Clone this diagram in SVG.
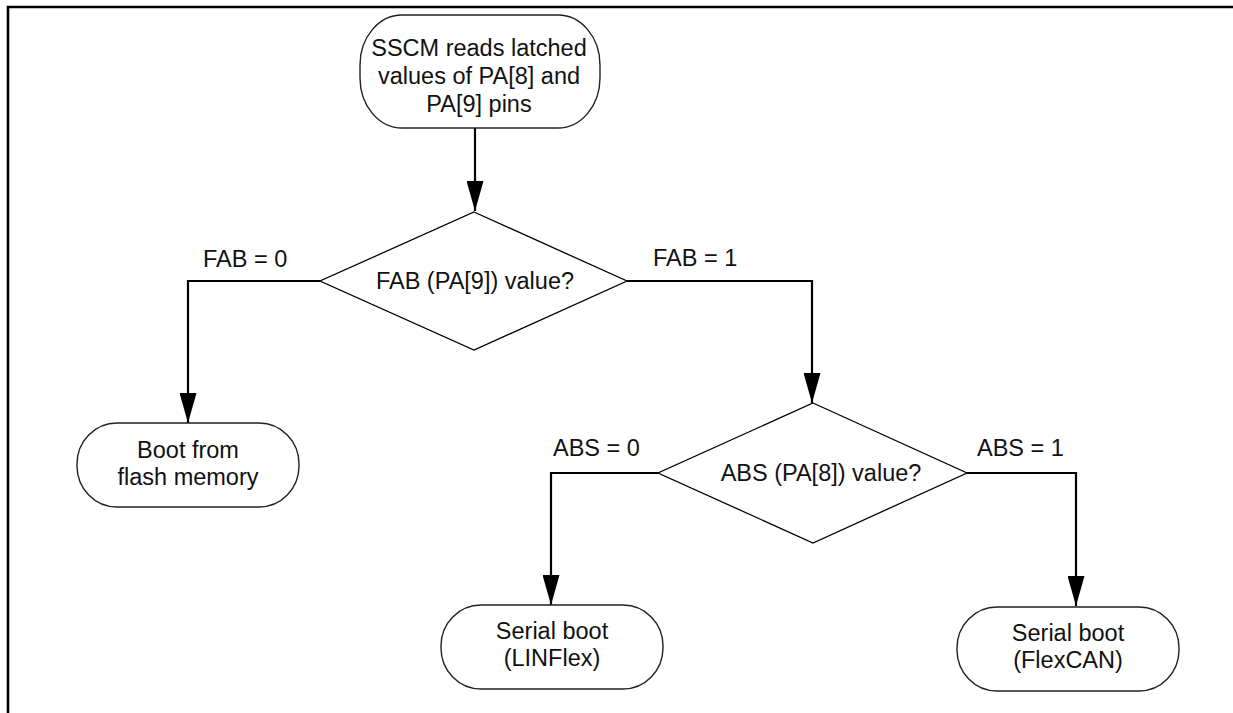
<svg xmlns="http://www.w3.org/2000/svg" width="1233" height="713" viewBox="0 0 1233 713">
  <defs>
    <marker id="arrow" markerUnits="userSpaceOnUse" markerWidth="30" markerHeight="17" refX="30" refY="8.5" orient="auto">
      <path d="M0,0 L30,8.5 L0,17 Z" fill="#000"/>
    </marker>
    <style>
      .term { fill: #fff; stroke: #222; stroke-width: 1.4; }
      .dec { fill: #fff; stroke: #000; stroke-width: 1.3; }
      .wire { fill: none; stroke: #000; stroke-width: 2.2; marker-end: url(#arrow); }
      .frame { fill: none; stroke: #000; stroke-width: 2.6; }
      text { font-family: "Liberation Sans", Arial, sans-serif; font-size: 23.5px; fill: #111; text-anchor: middle; }
      .lbl { text-anchor: start; }
    </style>
  </defs>
  <rect width="1233" height="713" fill="#fff"/>

  <!-- page frame: top and left rules -->
  <path class="frame" d="M8,713 L8,7 L1233,7"/>

  <!-- connectors -->
  <g id="connectors">
    <path class="wire" d="M475,128 L475,211"/>
    <path class="wire" d="M320,281 L188,281 L188,423"/>
    <path class="wire" d="M627,281 L812,281 L812,403"/>
    <path class="wire" d="M658,473 L551,473 L551,605"/>
    <path class="wire" d="M967,473 L1076,473 L1076,606"/>
    <text class="lbl" x="203" y="267">FAB = 0</text>
    <text class="lbl" x="653" y="266">FAB = 1</text>
    <text class="lbl" x="553" y="456">ABS = 0</text>
    <text class="lbl" x="977" y="456">ABS = 1</text>
  </g>

  <g id="start">
    <rect class="term" x="360" y="15" width="240" height="113" rx="42" ry="50"/>
    <text x="479" y="56">SSCM reads latched</text>
    <text x="479" y="84">values of PA[8] and</text>
    <text x="479" y="112">PA[9] pins</text>
  </g>

  <g id="fab-decision">
    <polygon class="dec" points="474,212 627,281 474,350 320,281"/>
    <text x="475" y="289">FAB (PA[9]) value?</text>
  </g>

  <g id="boot-flash">
    <rect class="term" x="77" y="423" width="222" height="84" rx="40" ry="41"/>
    <text x="188" y="458">Boot from</text>
    <text x="188" y="485">flash memory</text>
  </g>

  <g id="abs-decision">
    <polygon class="dec" points="813,403 967,473 813,543 658,473"/>
    <text x="821" y="481">ABS (PA[8]) value?</text>
  </g>

  <g id="serial-linflex">
    <rect class="term" x="441" y="605" width="222" height="84" rx="40" ry="41"/>
    <text x="552" y="639">Serial boot</text>
    <text x="552" y="666">(LINFlex)</text>
  </g>

  <g id="serial-flexcan">
    <rect class="term" x="957" y="607" width="222" height="84" rx="40" ry="41"/>
    <text x="1068" y="641">Serial boot</text>
    <text x="1068" y="668">(FlexCAN)</text>
  </g>
</svg>
